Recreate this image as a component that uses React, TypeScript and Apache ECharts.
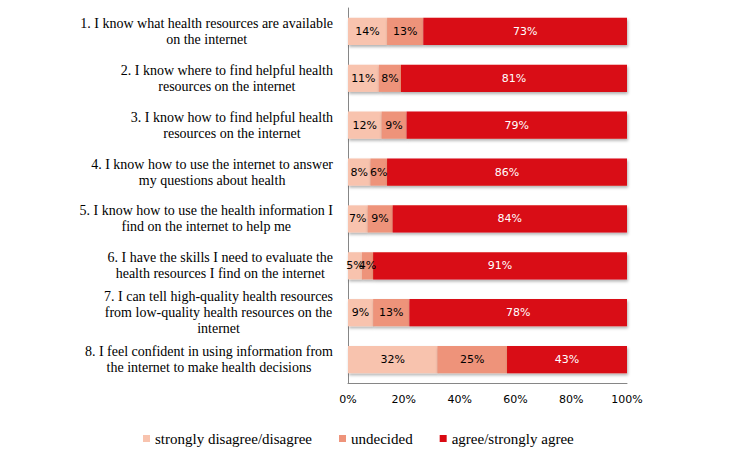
import React, { useEffect, useRef } from "react";
import * as echarts from "echarts";

const categories = [
  "1. I know what health resources are available\non the internet",
  "2. I know where to find helpful health\nresources on the internet",
  "3. I know how to find helpful health\nresources on the internet",
  "4. I know how to use the internet to answer\nmy questions about health",
  "5. I know how to use the health information I\nfind on the internet to help me",
  "6. I have the skills I need to evaluate the\nhealth resources I find on the internet",
  "7. I can tell high-quality health resources\nfrom low-quality health resources on the\ninternet",
  "8. I feel confident in using information from\nthe internet to make health decisions",
];
const disagree = [14, 11, 12, 8, 7, 5, 9, 32];
const undecided = [13, 8, 9, 6, 9, 4, 13, 25];
const agree = [73, 81, 79, 86, 84, 91, 78, 43];
const seriesNames = ["strongly disagree/disagree", "undecided", "agree/strongly agree"];
const colors = ["#F8C3AE", "#EE937A", "#D90A12"];
const labelColors = ["#000000", "#000000", "#ffffff"];

export default function App() {
  const ref = useRef<HTMLDivElement>(null);
  useEffect(() => {
    if (!ref.current) return;
    const chart = echarts.init(ref.current, undefined, { renderer: "svg" });
    const data = [disagree, undecided, agree];
    chart.setOption({
      animation: false,
      grid: { left: 348, right: 103, top: 8, bottom: 73, containLabel: false },
      legend: {
        data: seriesNames,
        left: 143,
        top: 431,
        padding: 0,
        icon: "rect",
        itemWidth: 7,
        itemHeight: 7,
        itemGap: 27,
        textStyle: { fontFamily: "Liberation Serif", fontSize: 15, color: "#000" },
      },
      xAxis: {
        type: "value",
        min: 0,
        max: 100,
        interval: 20,
        axisLine: { show: true, lineStyle: { color: "#868686" } },
        axisTick: { show: false },
        splitLine: { show: false },
        axisLabel: {
          formatter: "{value}%",
          margin: 11,
          color: "#000",
          fontFamily: "DejaVu Sans",
          fontSize: 11,
        },
      },
      yAxis: {
        type: "category",
        inverse: true,
        data: categories,
        axisLine: { show: true, lineStyle: { color: "#868686" } },
        axisTick: { show: false },
        axisLabel: {
          margin: 15,
          color: "#000",
          formatter: (v: string) => v.split("\n").map((l) => `{c|${l}}`).join("\n"),
          rich: {
            c: {
              align: "center",
              fontFamily: "Liberation Serif",
              fontSize: 14,
              lineHeight: 16,
              color: "#000",
            },
          },
        },
      },
      series: seriesNames.map((name, i) => ({
        name,
        type: "bar",
        stack: "total",
        barCategoryGap: "42%",
        data: data[i],
        itemStyle: {
          color: colors[i],
          shadowColor: "rgba(0,0,0,0.3)",
          shadowBlur: 3,
          shadowOffsetX: 1,
          shadowOffsetY: 2,
        },
        label: {
          show: true,
          position: "inside",
          formatter: "{c}%",
          color: labelColors[i],
          fontFamily: "DejaVu Sans",
          fontSize: 11,
        },
      })),
    });
    return () => chart.dispose();
  }, []);
  return (
    <div
      ref={ref}
      style={{ position: "fixed", left: 0, top: 0, width: 730, height: 456, background: "#fff" }}
    />
  );
}
